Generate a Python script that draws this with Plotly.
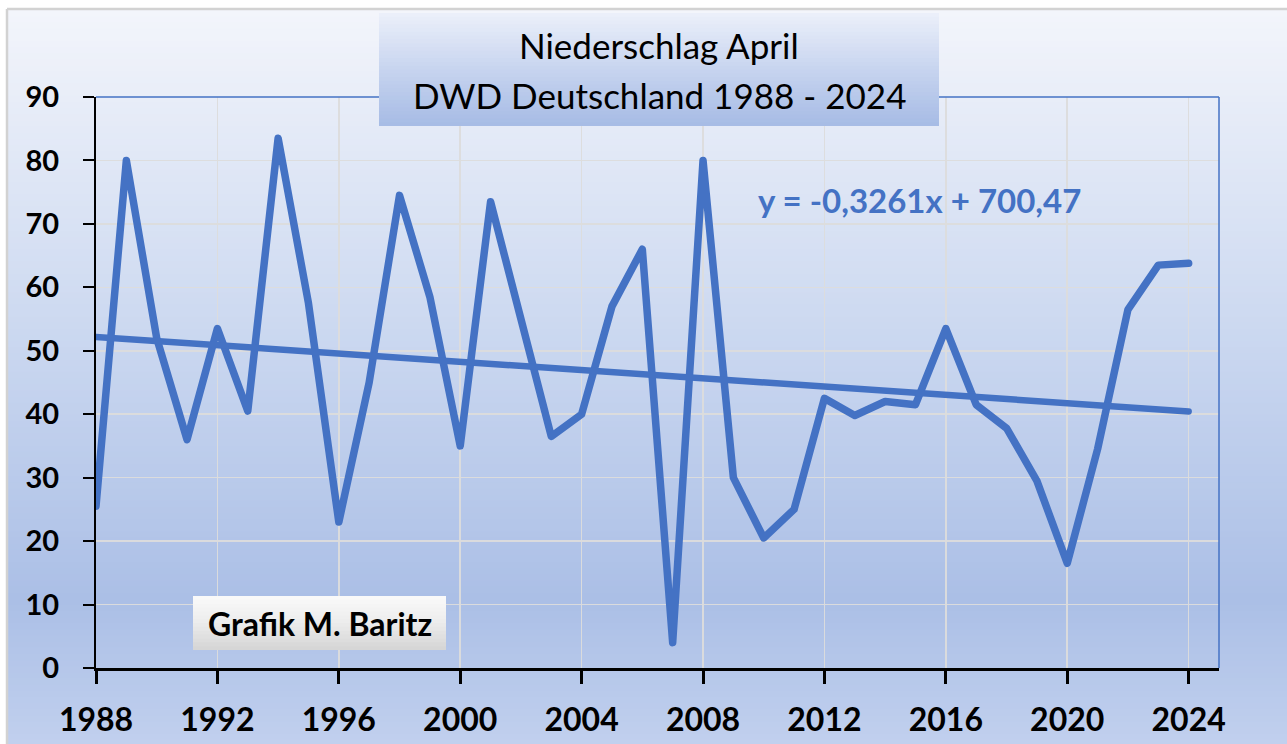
import plotly.graph_objects as go

# ---------------- data ----------------
years = list(range(1988, 2025))
precip_mm = [25.5, 80, 52, 36, 53.5, 40.5, 83.5, 57.5, 23, 45,
             74.5, 58.5, 35, 73.5, 55, 36.5, 40, 57, 66, 4,
             80, 30, 20.5, 25, 42.5, 39.8, 42, 41.5, 53.5, 41.5,
             37.8, 29.5, 16.5, 34.5, 56.5, 63.5, 63.8]
trend_slope = -0.3261
trend_intercept = 700.47
title_line1 = "Niederschlag April"
title_line2 = "DWD Deutschland 1988 - 2024"
equation_text = "y = -0,3261x + 700,47"
credit_text = "Grafik M. Baritz"
x_ticks = list(range(1988, 2025, 4))
y_ticks = list(range(0, 91, 10))

# ---------------- layout geometry ----------------
W, H = 1287, 744
ML, MR, MT, MB = 96, 68, 97, 76
PW = W - ML - MR
PH = H - MT - MB
FONT = "Lato"
BLUE = "#4472c4"


def px(xp):
    return (xp - ML) / PW


def py(yp):
    return (H - MB - yp) / PH


def lerp_color(stops, t):
    for (t0, c0), (t1, c1) in zip(stops[:-1], stops[1:]):
        if t <= t1:
            f = 0 if t1 == t0 else (t - t0) / (t1 - t0)
            f = max(0.0, min(1.0, f))
            c = [round(a + (b - a) * f) for a, b in zip(c0, c1)]
            return "rgb(%d,%d,%d)" % tuple(c)
    return "rgb(%d,%d,%d)" % tuple(stops[-1][1])


def gradient_bands(x0, x1, y0, y1, stops, n, layer):
    out = []
    h = (y1 - y0) / n
    for i in range(n):
        ya = y0 + i * h
        yb = min(y1, ya + h + 0.8)
        t = (i + 0.5) / n
        out.append(dict(type="rect", xref="paper", yref="paper",
                        x0=px(x0), x1=px(x1), y0=py(yb), y1=py(ya),
                        fillcolor=lerp_color(stops, t),
                        line=dict(width=0), layer=layer))
    return out


shapes = []
# chart area gradient background
bg_stops = [(0.0, (243, 245, 251)), (0.44, (203, 216, 240)),
            (0.80, (171, 191, 230)), (1.0, (193, 208, 238))]
shapes += gradient_bands(8, W + 2, 10, H + 2, bg_stops, 120, "below")
# outer gray frame
shapes.append(dict(type="line", xref="paper", yref="paper",
                   x0=px(7), x1=px(W + 2), y0=py(9), y1=py(9),
                   line=dict(color="#d2d2d2", width=2.5), layer="below"))
shapes.append(dict(type="line", xref="paper", yref="paper",
                   x0=px(7), x1=px(7), y0=py(9), y1=py(H + 2),
                   line=dict(color="#d2d2d2", width=2.5), layer="below"))
# plot area border (top / right) in blue
shapes.append(dict(type="line", xref="paper", yref="paper",
                   x0=0, x1=1, y0=1, y1=1,
                   line=dict(color=BLUE, width=1.5), layer="above"))
shapes.append(dict(type="line", xref="paper", yref="paper",
                   x0=1, x1=1, y0=0, y1=1,
                   line=dict(color=BLUE, width=1.5), layer="above"))
# title box gradient
title_stops = [(0.0, (236, 240, 250)), (0.5, (199, 212, 239)),
               (1.0, (166, 187, 229))]
shapes += gradient_bands(379, 939, 13, 126, title_stops, 30, "above")
# credit box gradient
credit_stops = [(0.0, (250, 250, 250)), (0.5, (236, 236, 236)),
                (1.0, (212, 212, 212))]
shapes += gradient_bands(193, 446, 596, 650, credit_stops, 14, "above")

fig = go.Figure()

fig.add_trace(go.Scatter(
    x=years, y=precip_mm, mode="lines",
    line=dict(color=BLUE, width=7.5),
    hoverinfo="skip", showlegend=False))

trend_x = [years[0], years[-1]]
trend_y = [trend_slope * v + trend_intercept for v in trend_x]
fig.add_trace(go.Scatter(
    x=trend_x, y=trend_y, mode="lines",
    line=dict(color=BLUE, width=6.5),
    hoverinfo="skip", showlegend=False))

annotations = [
    dict(text=title_line1, x=px(659), y=py(45), xref="paper", yref="paper",
         xanchor="center", yanchor="middle", showarrow=False,
         font=dict(family=FONT, size=35, color="black")),
    dict(text=title_line2, x=px(659), y=py(95), xref="paper", yref="paper",
         xanchor="center", yanchor="middle", showarrow=False,
         font=dict(family=FONT, size=35, color="black")),
    dict(text="<b>" + equation_text + "</b>", x=px(756), y=py(200),
         xref="paper", yref="paper", xanchor="left", yanchor="middle",
         showarrow=False, font=dict(family=FONT, size=33, color=BLUE)),
    dict(text="<b>" + credit_text + "</b>", x=px(320), y=py(623),
         xref="paper", yref="paper", xanchor="center", yanchor="middle",
         showarrow=False, font=dict(family=FONT, size=32, color="black")),
]

fig.update_layout(
    width=W, height=H,
    margin=dict(l=ML, r=MR, t=MT, b=MB, autoexpand=False),
    paper_bgcolor="white",
    plot_bgcolor="rgba(0,0,0,0)",
    shapes=shapes,
    annotations=annotations,
    showlegend=False,
    xaxis=dict(
        range=[1988, 2025], tickmode="array", tickvals=x_ticks,
        ticktext=[str(v) for v in x_ticks],
        showgrid=True, gridcolor="rgba(220,220,220,0.95)", gridwidth=1.5,
        zeroline=False, showline=True, linecolor="black", linewidth=3,
        ticks="outside", ticklen=13, tickwidth=3, tickcolor="black",
        ticklabelstandoff=9,
        tickfont=dict(family=FONT, size=32, color="black", weight="bold"),
    ),
    yaxis=dict(
        range=[0, 90], tickmode="array", tickvals=y_ticks,
        showgrid=True, gridcolor="rgba(220,220,220,0.95)", gridwidth=1.5,
        zeroline=False, showline=True, linecolor="black", linewidth=2,
        ticks="outside", ticklen=11, tickwidth=2, tickcolor="black",
        ticklabelstandoff=18,
        tickfont=dict(family=FONT, size=29, color="black", weight="bold"),
    ),
)

post = """
document.body.style.margin='0';
document.body.style.padding='0';
document.body.style.overflow='hidden';
document.querySelectorAll('.scatterlayer path.js-line').forEach(function(p){
  p.style.strokeLinejoin='round'; p.style.strokeLinecap='round';
});
"""
fig.write_html("out.html", post_script=post,
               config={"displayModeBar": False, "staticPlot": True})
